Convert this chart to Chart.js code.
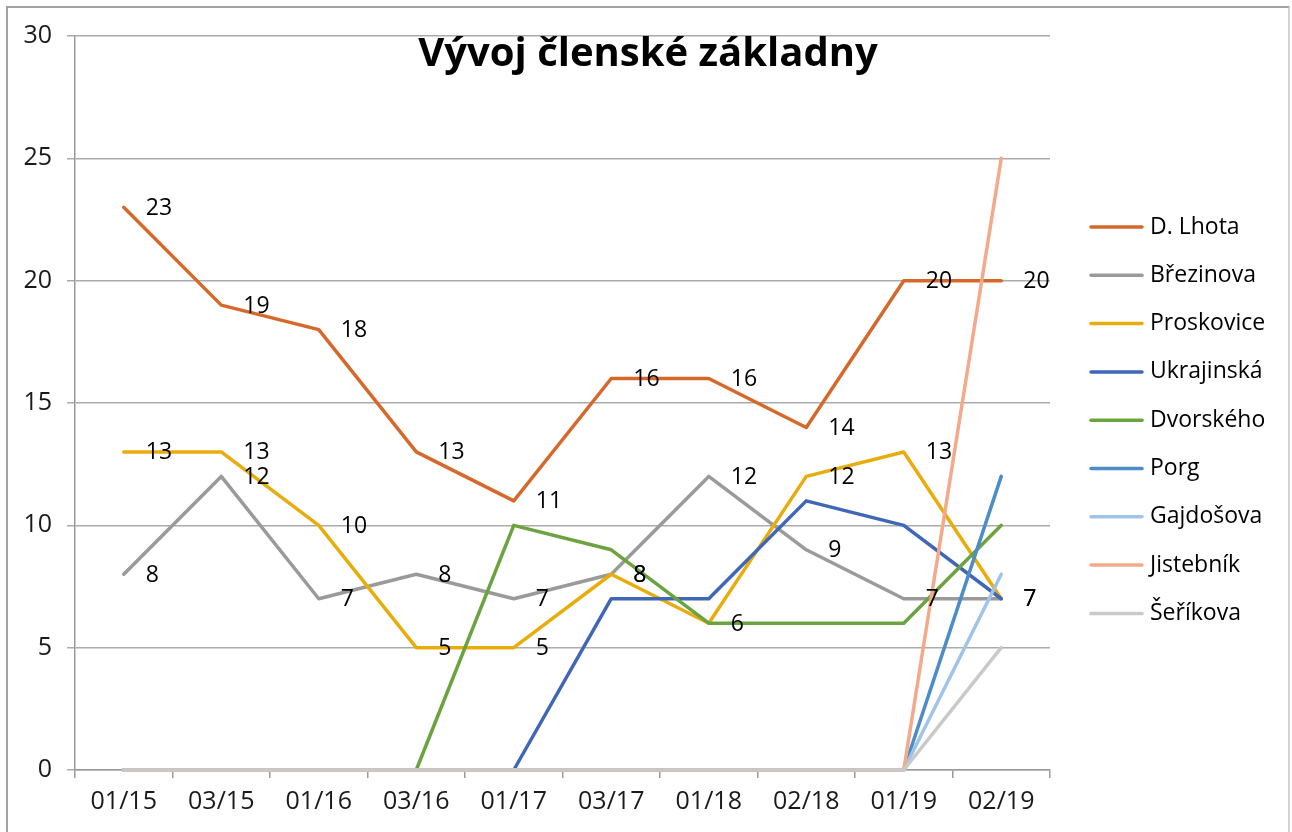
<!DOCTYPE html>
<html>
<head>
<meta charset="utf-8">
<script src="https://cdn.jsdelivr.net/npm/chart.js@4.4.1/dist/chart.umd.min.js"></script>
<style>
  html, body { margin: 0; padding: 0; background: #fff; }
  #wrap { position: relative; width: 1292px; height: 832px; overflow: hidden; }
  #frame { position: absolute; left: 6px; top: 6px; width: 1280px; height: 840px;
           border-top: 2px solid #a3a3a3; border-left: 2px solid #a3a3a3; border-right: 2px solid #d4d4d4;
           pointer-events: none; }
</style>
</head>
<body>
<div id="wrap">
  <canvas id="c" width="1292" height="832"></canvas>
  <div id="frame"></div>
</div>
<script>
const TITLE = 'Vývoj členské základny';
const categories = ['01/15','03/15','01/16','03/16','01/17','03/17','01/18','02/18','01/19','02/19'];
const seriesNames = ['D. Lhota','Březinova','Proskovice','Ukrajinská','Dvorského','Porg','Gajdošova','Jistebník','Šeříkova'];
const dLhota     = [23, 19, 18, 13, 11, 16, 16, 14, 20, 20];
const brezinova  = [8, 12, 7, 8, 7, 8, 12, 9, 7, 7];
const proskovice = [13, 13, 10, 5, 5, 8, 6, 12, 13, 7];
const ukrajinska = [0, 0, 0, 0, 0, 7, 7, 11, 10, 7];
const dvorskeho  = [0, 0, 0, 0, 10, 9, 6, 6, 6, 10];
const porg       = [0, 0, 0, 0, 0, 0, 0, 0, 0, 12];
const gajdosova  = [0, 0, 0, 0, 0, 0, 0, 0, 0, 8];
const jistebnik  = [0, 0, 0, 0, 0, 0, 0, 0, 0, 25];
const serikova   = [0, 0, 0, 0, 0, 0, 0, 0, 0, 5];
const seriesValues = [dLhota, brezinova, proskovice, ukrajinska, dvorskeho, porg, gajdosova, jistebnik, serikova];
const colors = ['#D4692B','#9A9A9A','#E8AD0C','#4066B8','#6AA33F','#4C8CC8','#9FC4E8','#F4AA8A','#C9C9C9'];
const labeledSeries = [0, 1, 2];
const yTicks = { min: 0, max: 30, step: 5 };

const FONT = "'Open Sans', 'Noto Sans', sans-serif";

const titlePlugin = {
  id: 'overlayTitle',
  afterDraw(chart) {
    const ctx = chart.ctx;
    ctx.save();
    ctx.font = 'bold 40px ' + FONT;
    ctx.fillStyle = '#000';
    ctx.textAlign = 'center';
    ctx.textBaseline = 'alphabetic';
    ctx.fillText(TITLE, 648, 66);
    ctx.restore();
  }
};

const labelPlugin = {
  id: 'valueLabels',
  afterDatasetsDraw(chart) {
    const ctx = chart.ctx;
    ctx.save();
    ctx.font = '23px ' + FONT;
    ctx.fillStyle = '#000';
    ctx.textAlign = 'left';
    ctx.textBaseline = 'middle';
    labeledSeries.forEach(di => {
      const meta = chart.getDatasetMeta(di);
      meta.data.forEach((pt, i) => {
        ctx.fillText(String(chart.data.datasets[di].data[i]), pt.x + 22, pt.y + 1);
      });
    });
    ctx.restore();
  }
};

const legendPlugin = {
  id: 'sideLegend',
  afterDraw(chart) {
    const ctx = chart.ctx;
    ctx.save();
    ctx.font = '23px ' + FONT;
    ctx.textAlign = 'left';
    ctx.textBaseline = 'middle';
    chart.data.datasets.forEach((ds, i) => {
      const y = 227 + i * 48.3;
      ctx.strokeStyle = ds.borderColor;
      ctx.lineWidth = 3.5;
      ctx.lineCap = 'round';
      ctx.beginPath();
      ctx.moveTo(1091, y);
      ctx.lineTo(1142, y);
      ctx.stroke();
      ctx.fillStyle = '#000';
      ctx.fillText(ds.label, 1150, y);
    });
    ctx.restore();
  }
};

const datasets = seriesNames.map((name, i) => ({
  label: name,
  data: seriesValues[i],
  borderColor: colors[i],
  backgroundColor: colors[i],
  borderWidth: 3.5,
  pointRadius: 0,
  pointHoverRadius: 0,
  tension: 0,
  fill: false,
  clip: false,
  borderCapStyle: 'round',
  borderJoinStyle: 'round',
  order: seriesNames.length - i
}));

new Chart(document.getElementById('c'), {
  type: 'line',
  data: { labels: categories, datasets },
  options: {
    responsive: false,
    animation: false,
    events: [],
    layout: { padding: { left: 0, top: 36, right: 242, bottom: 0 } },
    plugins: { legend: { display: false }, title: { display: false }, tooltip: { enabled: false } },
    scales: {
      x: {
        offset: true,
        grid: { display: true, drawOnChartArea: false, drawTicks: true, tickLength: 8, offset: true, color: '#9a9a9a', lineWidth: 1.5 },
        border: { display: true, color: '#9a9a9a', width: 1.5 },
        ticks: { color: '#1a1a1a', font: { family: FONT, size: 25 }, padding: 9, maxRotation: 0, autoSkip: false },
        afterFit(s) { s.height = 62; }
      },
      y: {
        min: yTicks.min, max: yTicks.max,
        grid: { color: '#ABABAB', lineWidth: 1.5, tickLength: 8, drawTicks: true },
        border: { display: true, color: '#9a9a9a', width: 1.5 },
        ticks: { stepSize: yTicks.step, color: '#1a1a1a', font: { family: FONT, size: 25 }, padding: 15 },
        afterFit(s) { s.width = 75; }
      }
    }
  },
  plugins: [labelPlugin, titlePlugin, legendPlugin]
});
</script>
</body>
</html>
